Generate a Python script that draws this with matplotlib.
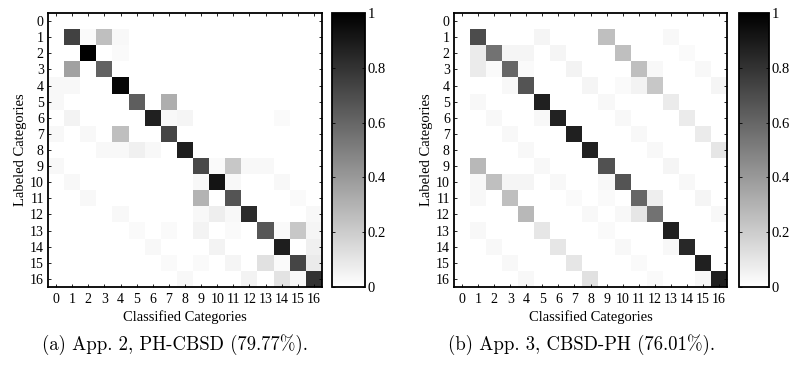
import numpy as np
import matplotlib
matplotlib.use("Agg")
import matplotlib.pyplot as plt

categories = list(range(17))
tick_labels = [str(c) for c in categories]

# Confusion matrix entries (row = labeled, col = classified): (row, col, value)
cells_a = [
    (1, 1, 0.74), (1, 2, 0.02), (1, 3, 0.25), (1, 4, 0.03),
    (2, 2, 1.00), (2, 4, 0.02),
    (3, 1, 0.37), (3, 3, 0.61),
    (4, 0, 0.03), (4, 1, 0.03), (4, 4, 0.97),
    (5, 0, 0.03), (5, 5, 0.63), (5, 7, 0.32),
    (6, 1, 0.05), (6, 6, 0.87), (6, 7, 0.03), (6, 8, 0.04), (6, 14, 0.02),
    (7, 0, 0.03), (7, 2, 0.03), (7, 4, 0.25), (7, 7, 0.73),
    (8, 3, 0.03), (8, 4, 0.03), (8, 5, 0.06), (8, 6, 0.03), (8, 8, 0.88),
    (9, 0, 0.03), (9, 9, 0.71), (9, 10, 0.02), (9, 11, 0.22), (9, 12, 0.03), (9, 13, 0.03),
    (10, 1, 0.03), (10, 9, 0.03), (10, 10, 0.92), (10, 11, 0.03), (10, 14, 0.03),
    (11, 2, 0.03), (11, 9, 0.30), (11, 11, 0.67), (11, 15, 0.02),
    (12, 4, 0.03), (12, 9, 0.03), (12, 10, 0.07), (12, 11, 0.03), (12, 12, 0.83), (12, 16, 0.03),
    (13, 5, 0.02), (13, 7, 0.02), (13, 9, 0.05), (13, 11, 0.02), (13, 13, 0.66),
    (13, 14, 0.02), (13, 15, 0.22), (13, 16, 0.04),
    (14, 6, 0.03), (14, 10, 0.05), (14, 14, 0.88), (14, 16, 0.06),
    (15, 7, 0.02), (15, 9, 0.02), (15, 11, 0.04), (15, 13, 0.12), (15, 14, 0.02),
    (15, 15, 0.73), (15, 16, 0.08),
    (16, 8, 0.03), (16, 12, 0.05), (16, 14, 0.11), (16, 15, 0.03), (16, 16, 0.80),
]

cells_b = [
    (1, 1, 0.70), (1, 5, 0.04), (1, 9, 0.25), (1, 13, 0.03),
    (2, 1, 0.08), (2, 2, 0.55), (2, 3, 0.04), (2, 4, 0.04), (2, 6, 0.04), (2, 10, 0.25), (2, 14, 0.02),
    (3, 1, 0.08), (3, 2, 0.02), (3, 3, 0.60), (3, 4, 0.02), (3, 7, 0.05), (3, 11, 0.25),
    (3, 12, 0.03), (3, 15, 0.03),
    (4, 3, 0.03), (4, 4, 0.67), (4, 8, 0.04), (4, 10, 0.02), (4, 11, 0.05), (4, 12, 0.22), (4, 16, 0.04),
    (5, 1, 0.03), (5, 5, 0.87), (5, 9, 0.03), (5, 13, 0.08),
    (6, 2, 0.03), (6, 5, 0.03), (6, 6, 0.86), (6, 10, 0.03), (6, 14, 0.08),
    (7, 3, 0.03), (7, 7, 0.87), (7, 11, 0.03), (7, 15, 0.08),
    (8, 4, 0.03), (8, 8, 0.87), (8, 12, 0.03), (8, 16, 0.10),
    (9, 1, 0.28), (9, 5, 0.03), (9, 9, 0.68), (9, 13, 0.04),
    (10, 1, 0.03), (10, 2, 0.25), (10, 3, 0.04), (10, 4, 0.04), (10, 6, 0.03), (10, 9, 0.03),
    (10, 10, 0.67), (10, 14, 0.03),
    (11, 1, 0.03), (11, 3, 0.25), (11, 7, 0.02), (11, 9, 0.02), (11, 11, 0.60), (11, 12, 0.07), (11, 15, 0.04),
    (12, 4, 0.28), (12, 8, 0.03), (12, 10, 0.03), (12, 11, 0.10), (12, 12, 0.55), (12, 16, 0.03),
    (13, 1, 0.03), (13, 5, 0.10), (13, 9, 0.02), (13, 13, 0.87),
    (14, 2, 0.03), (14, 6, 0.10), (14, 10, 0.03), (14, 13, 0.03), (14, 14, 0.84),
    (15, 3, 0.03), (15, 7, 0.10), (15, 11, 0.02), (15, 15, 0.87),
    (16, 4, 0.03), (16, 8, 0.12), (16, 12, 0.02), (16, 15, 0.03), (16, 16, 0.87),
]

captions = ["(a) App. 2, PH-CBSD (79.77%).", "(b) App. 3, CBSD-PH (76.01%)."]
cbar_ticks = [0, 0.2, 0.4, 0.6, 0.8, 1]
cbar_ticklabels = ["0", "0.2", "0.4", "0.6", "0.8", "1"]


def build(cells):
    m = np.zeros((len(categories), len(categories)))
    for r, c, v in cells:
        m[r, c] = v
    return m


W, H = 794, 367
fig = plt.figure(figsize=(W / 100, H / 100), dpi=100)
serif = "Liberation Serif"
fs_tick = 10
fs_lab = 10.5

layouts = [
    dict(ax=(48, 13, 274, 274), cb=(332, 13, 33, 274), cap_x=175),
    dict(ax=(454, 13, 273, 274), cb=(739, 13, 30, 274), cap_x=581),
]

for cells, lay, cap in zip([cells_a, cells_b], layouts, captions):
    x, y, w, h = lay["ax"]
    ax = fig.add_axes([x / W, 1 - (y + h) / H, w / W, h / H])
    m = build(cells)
    im = ax.imshow(m, cmap="gray_r", vmin=0, vmax=1, aspect="auto",
                   interpolation="nearest")
    ax.set_xticks(categories)
    ax.set_yticks(categories)
    ax.set_xticklabels(tick_labels, fontfamily=serif, fontsize=fs_tick)
    ax.set_yticklabels(tick_labels, fontfamily=serif, fontsize=fs_tick)
    ax.tick_params(direction="in", length=2.5, width=0.6, top=True, right=True, pad=3)
    ax.tick_params(axis="x", pad=4)
    for s in ax.spines.values():
        s.set_linewidth(1.3)
    ax.set_xlabel("Classified Categories", fontfamily=serif, fontsize=fs_lab, labelpad=3)
    ax.set_ylabel("Labeled Categories", fontfamily=serif, fontsize=fs_lab, labelpad=2)

    cx, cy, cw, ch = lay["cb"]
    cax = fig.add_axes([cx / W, 1 - (cy + ch) / H, cw / W, ch / H])
    cb = fig.colorbar(im, cax=cax, ticks=cbar_ticks)
    cb.ax.set_yticklabels(cbar_ticklabels, fontfamily=serif, fontsize=fs_lab)
    cb.ax.tick_params(direction="in", length=2.5, width=0.6, left=True, right=True, pad=2)
    cb.outline.set_linewidth(1.3)

    fig.text(lay["cap_x"] / W, 1 - 345 / H, cap, fontfamily="cmr10", fontsize=13.5,
             ha="center", va="center")

fig.savefig("out.png", dpi=100)
